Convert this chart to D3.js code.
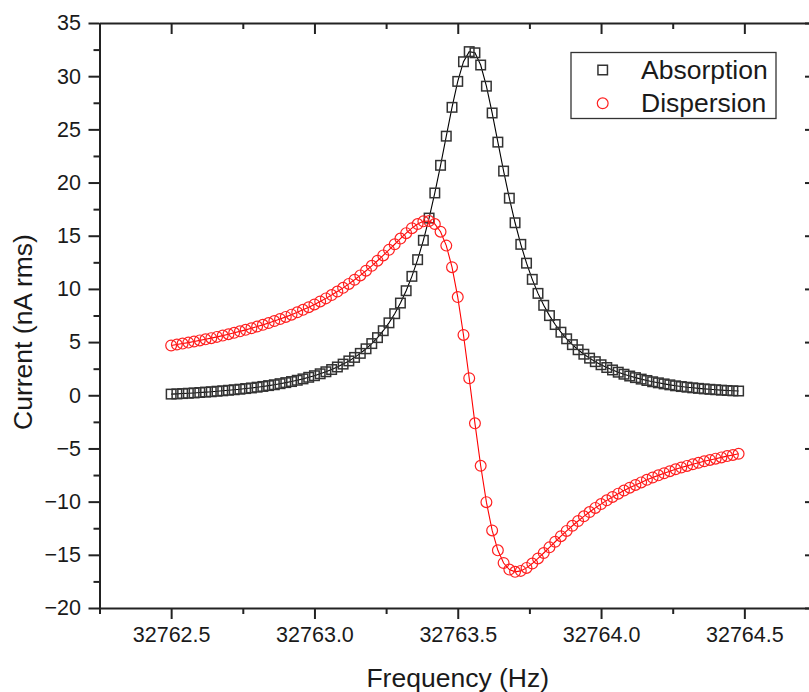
<!DOCTYPE html>
<html>
  <head>
    <meta charset="utf-8">
    <title>resonance</title>
    <script src="https://d3js.org/d3.v7.min.js" charset="utf-8"></script>
    <style>
      body { margin: 0; background: #fff; }
      text { font-family: "Liberation Sans", Arial, sans-serif; fill: #1a1a1a; }
    </style>
  </head>

  <body>
    <script type="text/javascript">

      //Data (frequency in Hz, current in nA rms)
      var frequencies = [
        32762.50, 32762.52, 32762.54, 32762.56, 32762.58, 32762.60, 32762.62, 32762.64, 32762.66, 32762.68,
        32762.70, 32762.72, 32762.74, 32762.76, 32762.78, 32762.80, 32762.82, 32762.84, 32762.86, 32762.88,
        32762.90, 32762.92, 32762.94, 32762.96, 32762.98, 32763.00, 32763.02, 32763.04, 32763.06, 32763.08,
        32763.10, 32763.12, 32763.14, 32763.16, 32763.18, 32763.20, 32763.22, 32763.24, 32763.26, 32763.28,
        32763.30, 32763.32, 32763.34, 32763.36, 32763.38, 32763.40, 32763.42, 32763.44, 32763.46, 32763.48,
        32763.50, 32763.52, 32763.54, 32763.56, 32763.58, 32763.60, 32763.62, 32763.64, 32763.66, 32763.68,
        32763.70, 32763.72, 32763.74, 32763.76, 32763.78, 32763.80, 32763.82, 32763.84, 32763.86, 32763.88,
        32763.90, 32763.92, 32763.94, 32763.96, 32763.98, 32764.00, 32764.02, 32764.04, 32764.06, 32764.08,
        32764.10, 32764.12, 32764.14, 32764.16, 32764.18, 32764.20, 32764.22, 32764.24, 32764.26, 32764.28,
        32764.30, 32764.32, 32764.34, 32764.36, 32764.38, 32764.40, 32764.42, 32764.44, 32764.46, 32764.48
      ];

      var absorption = [
        0.11, 0.13, 0.16, 0.19, 0.22, 0.26, 0.30, 0.33, 0.38, 0.42,
        0.47, 0.52, 0.57, 0.63, 0.69, 0.76, 0.83, 0.91, 0.99, 1.09,
        1.19, 1.29, 1.41, 1.54, 1.69, 1.84, 2.02, 2.21, 2.42, 2.66,
        2.93, 3.23, 3.56, 3.94, 4.37, 4.86, 5.42, 6.07, 6.81, 7.67,
        8.67, 9.83, 11.18, 12.75, 14.57, 16.66, 19.02, 21.62, 24.36, 27.07,
        29.51, 31.36, 32.31, 32.20, 31.05, 29.06, 26.54, 23.80, 21.08, 18.53,
        16.22, 14.19, 12.42, 10.90, 9.58, 8.46, 7.49, 6.65, 5.93, 5.31,
        4.76, 4.28, 3.86, 3.49, 3.16, 2.87, 2.61, 2.38, 2.17, 1.98,
        1.81, 1.66, 1.52, 1.39, 1.27, 1.17, 1.07, 0.98, 0.89, 0.82,
        0.76, 0.70, 0.65, 0.60, 0.56, 0.52, 0.48, 0.45, 0.42, 0.40
      ];

      var dispersion = [
        4.68, 4.77, 4.86, 4.95, 5.05, 5.16, 5.26, 5.37, 5.49, 5.61,
        5.74, 5.87, 6.01, 6.15, 6.30, 6.46, 6.62, 6.79, 6.98, 7.17,
        7.37, 7.58, 7.80, 8.03, 8.28, 8.54, 8.82, 9.11, 9.42, 9.75,
        10.10, 10.47, 10.86, 11.27, 11.71, 12.17, 12.65, 13.15, 13.67, 14.20,
        14.73, 15.24, 15.71, 16.10, 16.35, 16.38, 16.10, 15.38, 14.07, 12.04,
        9.23, 5.67, 1.60, -2.64, -6.63, -10.05, -12.71, -14.58, -15.77, -16.39,
        -16.60, -16.51, -16.23, -15.82, -15.34, -14.83, -14.30, -13.77, -13.25, -12.75,
        -12.27, -11.82, -11.38, -10.98, -10.59, -10.23, -9.88, -9.56, -9.25, -8.96,
        -8.69, -8.43, -8.19, -7.95, -7.73, -7.53, -7.33, -7.14, -6.96, -6.79,
        -6.64, -6.49, -6.35, -6.21, -6.08, -5.96, -5.84, -5.72, -5.61, -5.50
      ];

      var seriesNames = ["Absorption", "Dispersion"];

      //Tick values
      var xMajor = [32762.5, 32763.0, 32763.5, 32764.0, 32764.5];
      var xMinor = [32762.25, 32762.75, 32763.25, 32763.75, 32764.25, 32764.75];
      var yMajor = [-20, -15, -10, -5, 0, 5, 10, 15, 20, 25, 30, 35];
      var yMinor = [-17.5, -12.5, -7.5, -2.5, 2.5, 7.5, 12.5, 17.5, 22.5, 27.5, 32.5];

      //Width and height (plot frame runs a little past the right edge)
      var w = 809;
      var h = 692;
      var plotLeft = 99.5, plotRight = 816, plotTop = 23, plotBottom = 608;

      var xScale = d3.scaleLinear()
                     .domain([32762.25, 32764.75])
                     .range([plotLeft, plotRight]);

      var yScale = d3.scaleLinear()
                     .domain([-20, 35])
                     .range([plotBottom, plotTop]);

      var svg = d3.select("body")
                  .append("svg")
                  .attr("width", w)
                  .attr("height", h);

      svg.append("rect")
         .attr("width", w)
         .attr("height", h)
         .attr("fill", "#fff");

      //Axes helper: major ticks with labels plus minor ticks
      function drawAxis(axisFn, scale, translate, major, minor, size, fmt, padding) {
        var g = svg.append("g").attr("transform", translate);
        g.call(axisFn(scale)
                 .tickValues(major)
                 .tickSizeInner(size)
                 .tickSizeOuter(0)
                 .tickPadding(padding)
                 .tickFormat(fmt));
        g.append("g")
         .call(axisFn(scale)
                 .tickValues(minor)
                 .tickSizeInner(size > 0 ? 6 : -6)
                 .tickSizeOuter(0)
                 .tickFormat(""))
         .select(".domain").remove();
        g.selectAll("path, line")
         .attr("stroke", "#222")
         .attr("stroke-width", 2);
        g.selectAll("text")
         .attr("fill", "#1a1a1a")
         .style("font-size", "21.5px")
         .style("font-family", "'Liberation Sans', Arial, sans-serif");
        return g;
      }

      drawAxis(d3.axisBottom, xScale, "translate(0," + plotBottom + ")", xMajor, xMinor, 11, d3.format(".1f"), 8);
      drawAxis(d3.axisTop, xScale, "translate(0," + plotTop + ")", xMajor, xMinor, -11, "", 0);
      drawAxis(d3.axisLeft, yScale, "translate(" + plotLeft + ",0)", yMajor, yMinor, 11, d3.format("d"), 7.5);
      drawAxis(d3.axisRight, yScale, "translate(" + plotRight + ",0)", yMajor, yMinor, -11, "", 0);

      //Axis titles
      svg.append("text")
         .attr("x", (plotLeft + plotRight) / 2)
         .attr("y", 687)
         .attr("text-anchor", "middle")
         .style("font-size", "26.5px")
         .text("Frequency (Hz)");

      svg.append("text")
         .attr("transform", "translate(32,332) rotate(-90)")
         .attr("text-anchor", "middle")
         .style("font-size", "26.5px")
         .text("Current (nA rms)");

      //Build point lists
      var absPts = frequencies.map(function(f, i) { return [f, absorption[i]]; });
      var disPts = frequencies.map(function(f, i) { return [f, dispersion[i]]; });

      var line = d3.line()
                   .x(function(d) { return xScale(d[0]); })
                   .y(function(d) { return yScale(d[1]); });

      //Absorption: line + open squares
      svg.append("path")
         .datum(absPts)
         .attr("d", line)
         .attr("fill", "none")
         .attr("stroke", "#000")
         .attr("stroke-width", 1.1);

      var sq = 9.5;
      svg.append("g")
         .selectAll("rect")
         .data(absPts)
         .enter()
         .append("rect")
         .attr("x", function(d) { return xScale(d[0]) - sq / 2; })
         .attr("y", function(d) { return yScale(d[1]) - sq / 2; })
         .attr("width", sq)
         .attr("height", sq)
         .attr("fill", "none")
         .attr("stroke", "#333")
         .attr("stroke-width", 1.5);

      //Dispersion: line + open circles
      svg.append("path")
         .datum(disPts)
         .attr("d", line)
         .attr("fill", "none")
         .attr("stroke", "#ff0000")
         .attr("stroke-width", 1.1);

      svg.append("g")
         .selectAll("circle")
         .data(disPts)
         .enter()
         .append("circle")
         .attr("cx", function(d) { return xScale(d[0]); })
         .attr("cy", function(d) { return yScale(d[1]); })
         .attr("r", 5.4)
         .attr("fill", "none")
         .attr("stroke", "#ff2020")
         .attr("stroke-width", 1.2);

      //Legend
      var legend = svg.append("g");
      legend.append("rect")
            .attr("x", 571)
            .attr("y", 52.5)
            .attr("width", 205)
            .attr("height", 66)
            .attr("fill", "#fff")
            .attr("stroke", "#333")
            .attr("stroke-width", 1.3);

      legend.append("rect")
            .attr("x", 602.7 - sq / 2)
            .attr("y", 70 - sq / 2)
            .attr("width", sq)
            .attr("height", sq)
            .attr("fill", "none")
            .attr("stroke", "#333")
            .attr("stroke-width", 1.5);

      legend.append("circle")
            .attr("cx", 602.7)
            .attr("cy", 103.3)
            .attr("r", 5.4)
            .attr("fill", "none")
            .attr("stroke", "#ff2020")
            .attr("stroke-width", 1.2);

      legend.selectAll("text.lbl")
            .data(seriesNames)
            .enter()
            .append("text")
            .attr("class", "lbl")
            .attr("x", 641)
            .attr("y", function(d, i) { return 79 + i * 32.7; })
            .style("font-size", "26.5px")
            .text(function(d) { return d; });

    </script>
  </body>
</html>
